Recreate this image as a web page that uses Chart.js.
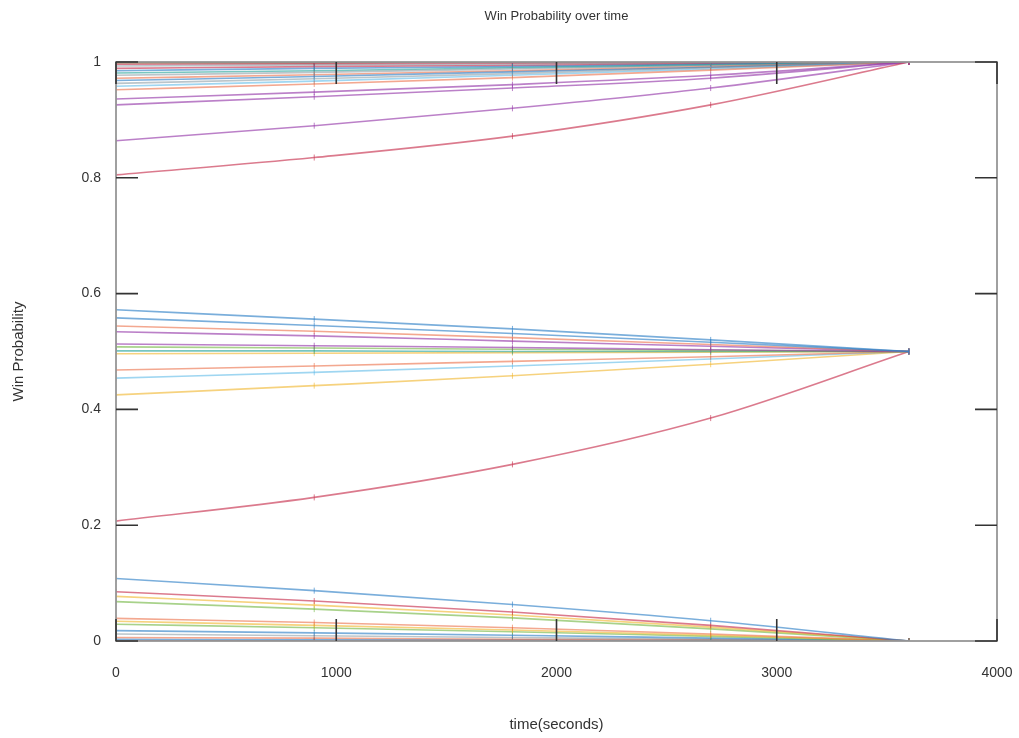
<!DOCTYPE html>
<html lang="en">
<head>
  <meta charset="UTF-8">
  <title>Win Probability over time</title>
  <script src="https://cdn.jsdelivr.net/npm/chart.js"></script>
  <style>
    body { margin: 0; background: #fff; }
    #box { width: 1019px; height: 738px; }
  </style>
</head>
<body>
  <div id="box"><canvas id="grafico"></canvas></div>
<script>
  // tempos em segundos onde li os valores
  const tempos = [0, 900, 1800, 2700, 3600];

  // linhas que terminam em 1
  const linhasTopo = [
    [0.805, 0.835, 0.872, 0.926, 1],
    [0.864, 0.890, 0.920, 0.955, 1],
    [0.926, 0.940, 0.955, 0.972, 1],
    [0.936, 0.948, 0.961, 0.977, 1],
    [0.952, 0.962, 0.973, 0.986, 1],
    [0.958, 0.967, 0.977, 0.988, 1],
    [0.963, 0.971, 0.980, 0.990, 1],
    [0.968, 0.975, 0.983, 0.991, 1],
    [0.972, 0.978, 0.985, 0.992, 1],
    [0.977, 0.982, 0.988, 0.994, 1],
    [0.981, 0.985, 0.990, 0.995, 1],
    [0.985, 0.989, 0.992, 0.996, 1],
    [0.989, 0.992, 0.994, 0.997, 1],
    [0.993, 0.995, 0.996, 0.998, 1],
    [0.996, 0.997, 0.998, 0.999, 1],
    [0.999, 0.999, 1, 1, 1],
    [1, 1, 1, 1, 1]
  ];
  const coresTopo = ['red', 'purple', 'purple', 'purple', 'orange', 'lightblue', 'grey', 'blue',
    'orange', 'grey', 'teal', 'blue', 'red', 'grey', 'red', 'olive', 'darkteal'];

  // linhas que terminam em 0.5
  const linhasMeio = [
    [0.572, 0.556, 0.539, 0.520, 0.5],
    [0.558, 0.545, 0.531, 0.516, 0.5],
    [0.544, 0.535, 0.524, 0.512, 0.5],
    [0.534, 0.527, 0.518, 0.509, 0.5],
    [0.513, 0.510, 0.507, 0.503, 0.5],
    [0.508, 0.506, 0.504, 0.502, 0.5],
    [0.501, 0.501, 0.500, 0.500, 0.5],
    [0.496, 0.497, 0.498, 0.499, 0.5],
    [0.468, 0.475, 0.483, 0.491, 0.5],
    [0.454, 0.464, 0.475, 0.487, 0.5],
    [0.425, 0.441, 0.458, 0.478, 0.5],
    [0.207, 0.248, 0.305, 0.385, 0.5]
  ];
  const coresMeio = ['blue', 'blue', 'orange', 'purple', 'purple', 'green', 'teal', 'yellow',
    'orange', 'lightblue', 'yellow', 'red'];

  // linhas que terminam em 0
  const linhasBaixo = [
    [0.108, 0.087, 0.063, 0.035, 0],
    [0.085, 0.069, 0.050, 0.027, 0],
    [0.077, 0.062, 0.045, 0.024, 0],
    [0.068, 0.055, 0.040, 0.021, 0],
    [0.039, 0.032, 0.023, 0.012, 0],
    [0.034, 0.027, 0.019, 0.010, 0],
    [0.029, 0.023, 0.016, 0.008, 0],
    [0.018, 0.014, 0.010, 0.005, 0],
    [0.012, 0.009, 0.006, 0.003, 0],
    [0.006, 0.005, 0.003, 0.002, 0],
    [0.003, 0.002, 0.002, 0.001, 0],
    [0, 0, 0, 0, 0]
  ];
  const coresBaixo = ['blue', 'red', 'yellow', 'green', 'orange', 'yellow', 'green', 'blue',
    'grey', 'orange', 'blue', 'darkred'];

  const ticksX = [0, 1000, 2000, 3000, 4000];
  const ticksY = [0, 0.2, 0.4, 0.6, 0.8, 1];

  const paleta = {
    blue: 'rgba(50,130,200,0.65)',
    orange: 'rgba(235,110,70,0.6)',
    purple: 'rgba(150,60,170,0.65)',
    green: 'rgba(110,180,60,0.6)',
    teal: 'rgba(30,160,150,0.6)',
    yellow: 'rgba(240,180,40,0.6)',
    lightblue: 'rgba(80,180,230,0.55)',
    red: 'rgba(200,50,80,0.65)',
    grey: 'rgba(120,140,150,0.5)',
    olive: 'rgba(100,120,40,0.85)',
    darkteal: 'rgba(40,90,100,0.9)',
    darkred: 'rgba(140,25,25,0.9)'
  };

  function montarSeries(linhas, cores) {
    return linhas.map((vals, i) => ({
      data: vals.map((v, j) => ({ x: tempos[j], y: v })),
      borderColor: paleta[cores[i]],
      backgroundColor: paleta[cores[i]],
      borderWidth: 1.6,
      pointStyle: 'line',
      pointRotation: 90,
      pointRadius: 3,
      pointBorderWidth: 1,
      cubicInterpolationMode: 'monotone',
      fill: false
    }));
  }

  const datasets = [].concat(
    montarSeries(linhasTopo, coresTopo),
    montarSeries(linhasMeio, coresMeio),
    montarSeries(linhasBaixo, coresBaixo)
  );

  // moldura estilo gnuplot com ticks para dentro
  const moldura = {
    id: 'moldura',
    afterDraw(chart) {
      const c = chart.ctx;
      const a = chart.chartArea;
      const sx = chart.scales.x;
      const sy = chart.scales.y;
      c.save();
      c.strokeStyle = 'rgba(150,150,150,0.9)';
      c.lineWidth = 2;
      c.strokeRect(a.left, a.top, a.right - a.left, a.bottom - a.top);
      c.strokeStyle = '#333';
      c.lineWidth = 1.6;
      c.beginPath();
      ticksX.forEach(t => {
        const px = sx.getPixelForValue(t);
        c.moveTo(px, a.bottom); c.lineTo(px, a.bottom - 22);
        c.moveTo(px, a.top); c.lineTo(px, a.top + 22);
      });
      ticksY.forEach(t => {
        const py = sy.getPixelForValue(t);
        c.moveTo(a.left, py); c.lineTo(a.left + 22, py);
        c.moveTo(a.right, py); c.lineTo(a.right - 22, py);
      });
      c.stroke();
      c.restore();
    }
  };

  new Chart(document.getElementById('grafico'), {
    type: 'line',
    data: { datasets: datasets },
    plugins: [moldura],
    options: {
      responsive: true,
      maintainAspectRatio: false,
      animation: false,
      layout: { padding: { left: 0, right: 22, top: 0, bottom: 0 } },
      plugins: {
        legend: { display: false },
        tooltip: { enabled: false },
        title: {
          display: true,
          text: 'Win Probability over time',
          fullSize: false,
          color: '#333',
          font: { family: 'Liberation Sans', size: 13, weight: 'normal', lineHeight: 1.2 },
          padding: { top: 9, bottom: 37.4 }
        }
      },
      scales: {
        x: {
          type: 'linear',
          min: 0,
          max: 4000,
          afterBuildTicks: s => { s.ticks = ticksX.map(v => ({ value: v })); },
          afterFit: s => { s.height = 97; s.paddingLeft = 0; s.paddingRight = 0; },
          grid: { display: false, drawTicks: false },
          border: { display: false },
          ticks: {
            color: '#333', padding: 24, font: { family: 'Liberation Sans', size: 14 },
            callback: v => String(v)
          },
          title: {
            display: true,
            text: 'time(seconds)',
            color: '#333',
            padding: { top: 0, bottom: 4 },
            font: { family: 'Liberation Sans', size: 15, lineHeight: 1.2 }
          }
        },
        y: {
          type: 'linear',
          min: 0,
          max: 1,
          afterBuildTicks: s => { s.ticks = ticksY.map(v => ({ value: v })); },
          afterFit: s => { s.width = 116; s.paddingTop = 0; s.paddingBottom = 0; },
          grid: { display: false, drawTicks: false },
          border: { display: false },
          ticks: {
            color: '#333', padding: 15, font: { family: 'Liberation Sans', size: 14 },
            callback: v => String(v)
          },
          title: {
            display: true,
            text: 'Win Probability',
            color: '#333',
            padding: { top: 10, bottom: 0 },
            font: { family: 'Liberation Sans', size: 15, lineHeight: 1.2 }
          }
        }
      }
    }
  });
</script>
</body>
</html>
